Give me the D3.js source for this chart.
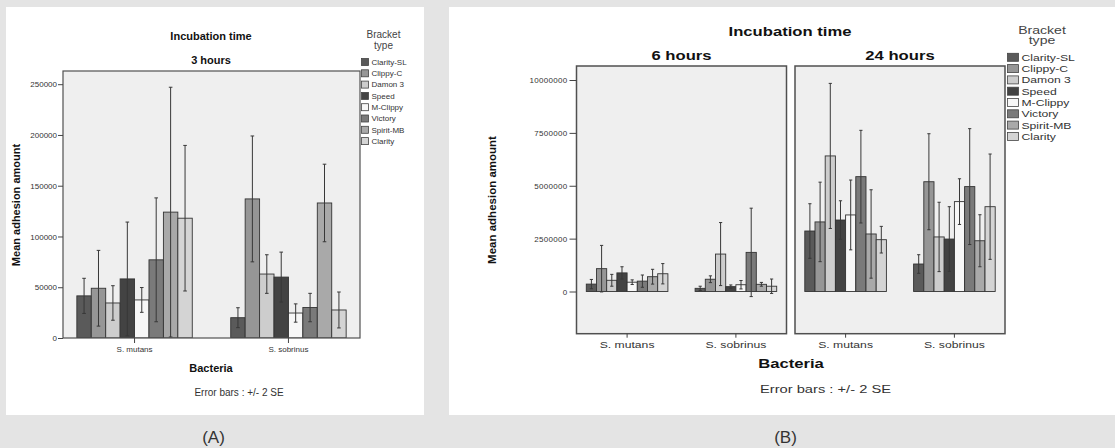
<!DOCTYPE html>
<html lang="en">

<head>
    <meta charset="UTF-8">
    <title>Mean adhesion amount</title>
    <script src="https://cdnjs.cloudflare.com/ajax/libs/d3/7.9.0/d3.min.js"></script>
    <style>
        body { margin: 0; background: #e4e4e4; }
        svg { display: block; font-family: "Liberation Sans", Arial, sans-serif; }
    </style>
</head>

<body>
    <div id="chart"></div>

    <script>
        // categories
        const bacteria = ["S. mutans", "S. sobrinus"];
        const brackets = ["Clarity-SL", "Clippy-C", "Damon 3", "Speed", "M-Clippy", "Victory", "Spirit-MB", "Clarity"];
        const bracketColors = ["#5a5a5a", "#969696", "#cdcdcd", "#434343", "#f7f7f7", "#7a7a7a", "#a9a9a9", "#d4d4d4"];

        // (A) 3 hours : means and error (+/- 2 SE)
        const mean3hMutans = [41500, 49000, 34500, 58200, 37500, 77000, 124000, 118000];
        const err3hMutans = [17300, 37300, 17000, 56000, 12200, 61000, 123000, 71700];
        const mean3hSobrinus = [20000, 137000, 63000, 60000, 24600, 30000, 133000, 27600];
        const err3hSobrinus = [9800, 62000, 19000, 24600, 9000, 14000, 38200, 17700];

        // (B) 6 hours
        const mean6hMutans = [350000, 1080000, 530000, 880000, 440000, 490000, 700000, 840000];
        const err6hMutans = [220000, 1100000, 280000, 290000, 110000, 290000, 350000, 480000];
        const mean6hSobrinus = [150000, 580000, 1770000, 230000, 320000, 1850000, 340000, 250000];
        const err6hSobrinus = [100000, 160000, 1490000, 80000, 200000, 2090000, 90000, 340000];

        // (B) 24 hours
        const mean24hMutans = [2860000, 3290000, 6410000, 3380000, 3620000, 5430000, 2720000, 2450000];
        const err24hMutans = [1290000, 1880000, 3430000, 910000, 1650000, 2190000, 2090000, 630000];
        const mean24hSobrinus = [1300000, 5190000, 2580000, 2480000, 4250000, 4960000, 2400000, 4010000];
        const err24hSobrinus = [440000, 2270000, 1640000, 1530000, 1080000, 2740000, 1230000, 2490000];

        // tick labels
        const ticksA = [0, 50000, 100000, 150000, 200000, 250000];
        const ticksB = [0, 2500000, 5000000, 7500000, 10000000];

        // panel B text is stretched sideways in the source figure
        const SX = 1.28;

        const svg = d3.select("#chart").append("svg")
            .attr("width", 1115)
            .attr("height", 448);

        svg.append("rect").attr("width", 1115).attr("height", 448).attr("fill", "#e4e4e4");
        svg.append("rect").attr("x", 6).attr("y", 7).attr("width", 418).attr("height", 408).attr("fill", "#fff");
        svg.append("rect").attr("x", 449).attr("y", 7).attr("width", 666).attr("height", 408).attr("fill", "#fff");

        const defs = svg.append("defs");
        let clipId = 0;

        // one boxed facet with grouped bars and error bars
        function facet(xr, y, groups, o) {
            const [top, bottom] = [y.range()[1], y.range()[0]];
            const g = svg.append("g");

            g.append("rect")
                .attr("x", xr[0]).attr("y", top)
                .attr("width", xr[1] - xr[0]).attr("height", bottom - top)
                .attr("fill", "#efefef");

            const id = "clip" + (clipId++);
            defs.append("clipPath").attr("id", id).append("rect")
                .attr("x", xr[0]).attr("y", top)
                .attr("width", xr[1] - xr[0]).attr("height", bottom - top);

            const x0 = d3.scaleBand().domain(bacteria).range(xr).paddingInner(0.25).paddingOuter(0.09);
            const x1 = d3.scaleBand().domain(brackets).range([0, x0.bandwidth()]);

            const data = [];
            groups.forEach((grp, i) => {
                brackets.forEach((b, j) => {
                    data.push({ bac: bacteria[i], br: b, j: j, mean: grp[0][j], err: grp[1][j] });
                });
            });

            const inner = g.append("g").attr("clip-path", `url(#${id})`);

            inner.selectAll(".bar")
                .data(data)
                .enter().append("rect")
                .attr("class", "bar")
                .attr("x", d => x0(d.bac) + x1(d.br))
                .attr("y", d => y(Math.max(0, d.mean)))
                .attr("width", x1.bandwidth())
                .attr("height", d => Math.abs(y(d.mean) - y(0)))
                .attr("fill", d => bracketColors[d.j])
                .attr("stroke", "#333")
                .attr("stroke-width", 0.9);

            const cap = o.cap;
            const eb = inner.selectAll(".err")
                .data(data)
                .enter().append("g")
                .attr("class", "err")
                .attr("stroke", "#383838")
                .attr("stroke-width", 1);
            const cx = d => x0(d.bac) + x1(d.br) + x1.bandwidth() / 2;
            eb.append("line")
                .attr("x1", cx).attr("x2", cx)
                .attr("y1", d => y(d.mean + d.err)).attr("y2", d => y(d.mean - d.err));
            eb.append("line")
                .attr("x1", d => cx(d) - cap).attr("x2", d => cx(d) + cap)
                .attr("y1", d => y(d.mean + d.err)).attr("y2", d => y(d.mean + d.err));
            eb.append("line")
                .attr("x1", d => cx(d) - cap).attr("x2", d => cx(d) + cap)
                .attr("y1", d => y(d.mean - d.err)).attr("y2", d => y(d.mean - d.err));

            g.append("rect")
                .attr("x", xr[0]).attr("y", top)
                .attr("width", xr[1] - xr[0]).attr("height", bottom - top)
                .attr("fill", "none")
                .attr("stroke", "#505050")
                .attr("stroke-width", o.frame);

            const ax = g.append("g")
                .attr("transform", `translate(0,${bottom})`)
                .call(d3.axisBottom(x0).tickSize(o.xTick).tickSizeOuter(0).tickPadding(o.xPad));
            ax.select(".domain").remove();
            ax.selectAll("line").attr("stroke", "#444");
            ax.selectAll("text")
                .attr("font-family", "Liberation Sans, Arial, sans-serif")
                .attr("font-size", o.xFont)
                .attr("transform", `scale(${o.sx},1)`)
                .attr("fill", "#333");

            return g;
        }

        function yAxis(x, y, ticks, o) {
            const ay = svg.append("g")
                .attr("transform", `translate(${x},0)`)
                .call(d3.axisLeft(y).tickValues(ticks).tickSize(o.size).tickPadding(o.pad).tickFormat(d3.format("d")));
            ay.select(".domain").remove();
            ay.selectAll("line").attr("stroke", "#444");
            ay.selectAll("text")
                .attr("font-family", "Liberation Sans, Arial, sans-serif")
                .attr("font-size", o.font)
                .attr("letter-spacing", o.space)
                .attr("fill", "#333");
        }

        function label(x, y, txt, size, opts = {}) {
            return svg.append("text")
                .attr("transform", `translate(${x},${y}) scale(${opts.sx || 1},1)`)
                .attr("text-anchor", opts.anchor || "middle")
                .attr("font-size", size)
                .attr("font-weight", opts.bold ? "bold" : "normal")
                .attr("fill", opts.fill || "#111")
                .text(txt);
        }

        function legend(x, y0, step, sw, sh, font, sx) {
            const lg = svg.append("g");
            brackets.forEach((b, i) => {
                const cy = y0 + i * step;
                lg.append("rect")
                    .attr("x", x).attr("y", cy - sh / 2)
                    .attr("width", sw).attr("height", sh)
                    .attr("fill", bracketColors[i])
                    .attr("stroke", "#444").attr("stroke-width", 0.8);
                lg.append("text")
                    .attr("transform", `translate(${x + sw + 3},${cy + font * 0.36}) scale(${sx},1)`)
                    .attr("font-size", font)
                    .attr("fill", "#333")
                    .text(b);
            });
        }

        // ---------- (A) ----------
        const yA = d3.scaleLinear().domain([0, 263000]).range([338, 71]);
        facet([63, 360], yA, [[mean3hMutans, err3hMutans], [mean3hSobrinus, err3hSobrinus]],
            { cap: 1.8, frame: 1.2, xTick: 5, xPad: 3, xFont: 8, sx: 1 });
        yAxis(63, yA, ticksA, { size: 5, pad: 1, font: 8, space: 0 });

        label(211, 39.5, "Incubation time", 11, { bold: true });
        label(211, 64.3, "3 hours", 11, { bold: true });
        label(211, 371.6, "Bacteria", 11, { bold: true });
        label(239, 396.3, "Error bars : +/- 2 SE", 10, { fill: "#333" });
        svg.append("text")
            .attr("transform", "translate(19.5,205) rotate(-90)")
            .attr("text-anchor", "middle")
            .attr("font-size", 11).attr("font-weight", "bold").attr("fill", "#111")
            .text("Mean adhesion amount");
        label(383.5, 37.6, "Bracket", 10, { fill: "#444" });
        label(383.5, 48.6, "type", 10, { fill: "#444" });
        legend(361.5, 62, 11.3, 7, 7, 8, 1);
        label(213.5, 443, "(A)", 17, { fill: "#333" });

        // ---------- (B) ----------
        const yB = d3.scaleLinear().domain([-1995000, 10662000]).range([333.7, 66]);
        const optB = { cap: 1.6, frame: 1.5, xTick: 4, xPad: 3.4, xFont: 9.5, sx: SX };
        facet([576.5, 786.5], yB, [[mean6hMutans, err6hMutans], [mean6hSobrinus, err6hSobrinus]], optB);
        facet([795, 1005], yB, [[mean24hMutans, err24hMutans], [mean24hSobrinus, err24hSobrinus]], optB);
        yAxis(576.5, yB, ticksB, { size: 7, pad: 2, font: 8, space: 0.3 });

        label(790, 35.7, "Incubation time", 13, { bold: true, sx: SX });
        label(681.5, 60, "6 hours", 13, { bold: true, sx: SX });
        label(900, 60, "24 hours", 13, { bold: true, sx: SX });
        label(791, 368, "Bacteria", 13, { bold: true, sx: SX });
        label(825.5, 392.7, "Error bars : +/- 2 SE", 11.5, { fill: "#333", sx: SX });
        svg.append("text")
            .attr("transform", "translate(496,200) rotate(-90)")
            .attr("text-anchor", "middle")
            .attr("font-size", 11.5).attr("font-weight", "bold").attr("fill", "#111")
            .text("Mean adhesion amount");
        label(1042, 33.8, "Bracket", 11, { fill: "#444", sx: SX });
        label(1042, 43.8, "type", 11, { fill: "#444", sx: SX });
        legend(1007.5, 57.3, 11.3, 11, 8, 9.5, SX);
        label(785.5, 443, "(B)", 17, { fill: "#333" });
    </script>
</body>

</html>
